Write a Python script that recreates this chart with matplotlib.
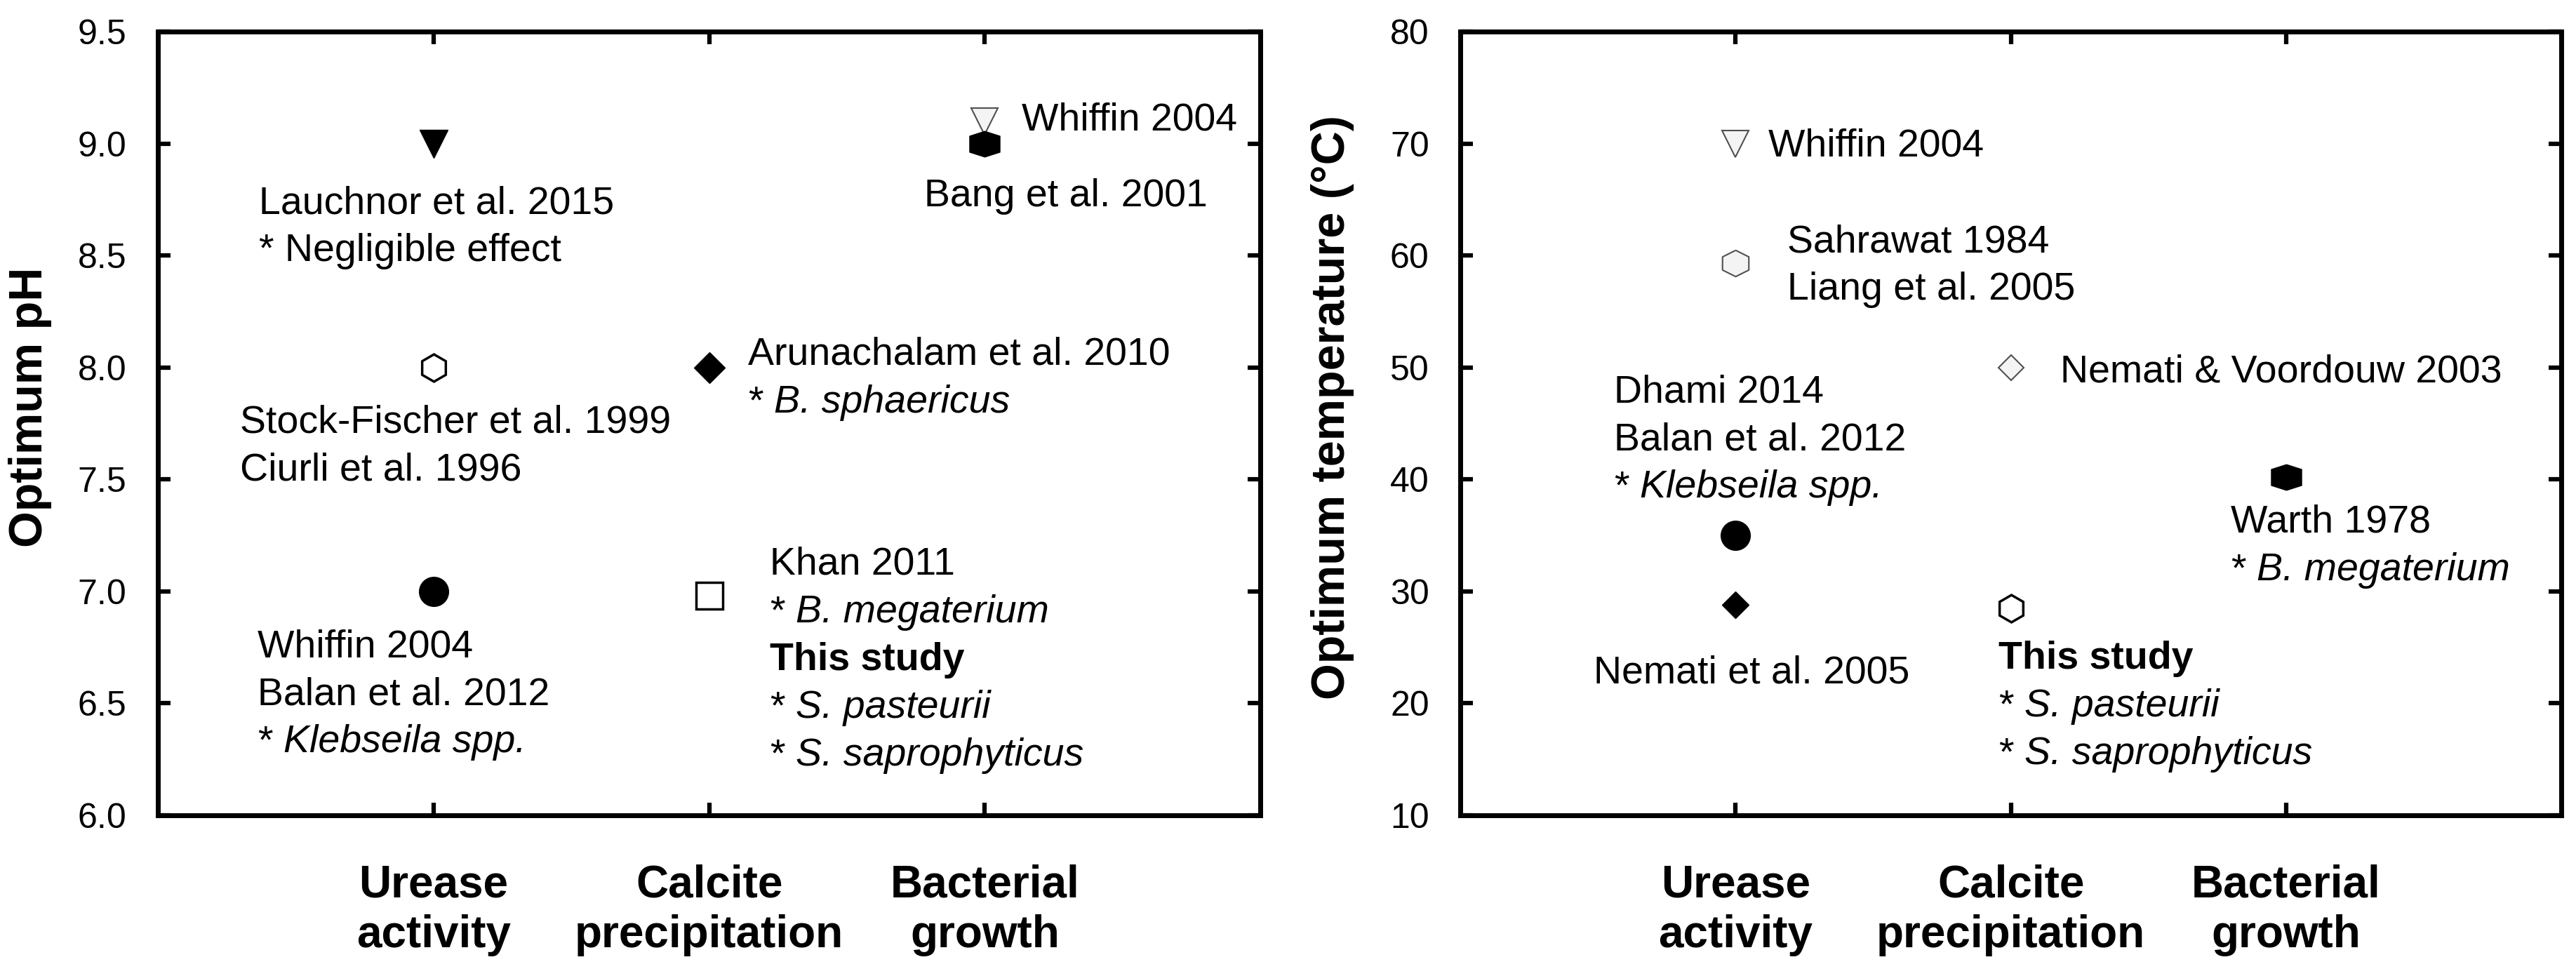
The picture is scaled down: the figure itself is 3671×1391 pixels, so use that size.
import matplotlib
matplotlib.use('Agg')
import matplotlib.pyplot as plt
from matplotlib.ticker import FormatStrFormatter

plt.rcParams['font.family'] = ['Liberation Sans', 'DejaVu Sans']

# categories on the x axis
categories = ['Urease\nactivity', 'Calcite\nprecipitation', 'Bacterial\ngrowth']
cat_pos = [1, 2, 3]

# note lines: plain str, ('it', species) -> "* " + italic, ('bf', text) -> bold
# optimum pH (left panel)
ph_cat = [1, 1, 1, 2, 2, 3, 3]
ph_val = [9.0, 8.0, 7.0, 8.0, 6.98, 9.1, 9.0]
ph_notes = [
    ['Lauchnor et al. 2015', '* Negligible effect'],
    ['Stock-Fischer et al. 1999', 'Ciurli et al. 1996'],
    ['Whiffin 2004', 'Balan et al. 2012', ('it', 'Klebseila spp.')],
    ['Arunachalam et al. 2010', ('it', 'B. sphaericus')],
    ['Khan 2011', ('it', 'B. megaterium'), ('bf', 'This study'),
     ('it', 'S. pasteurii'), ('it', 'S. saprophyticus')],
    ['Whiffin 2004'],
    ['Bang et al. 2001'],
]

# optimum temperature (right panel)
temp_cat = [1, 1, 1, 1, 2, 2, 3]
temp_val = [70.0, 59.3, 35.0, 28.8, 50.0, 28.5, 40.2]
temp_notes = [
    ['Whiffin 2004'],
    ['Sahrawat 1984', 'Liang et al. 2005'],
    ['Dhami 2014', 'Balan et al. 2012', ('it', 'Klebseila spp.')],
    ['Nemati et al. 2005'],
    ['Nemati & Voordouw 2003'],
    [('bf', 'This study'), ('it', 'S. pasteurii'), ('it', 'S. saprophyticus')],
    ['Warth 1978', ('it', 'B. megaterium')],
]

# ---- styles / layout ----
hex_wide = [(0, 1), (1, 0.5), (1, -0.5), (0, -1), (-1, -0.5), (-1, 0.5), (0, 1)]
hex_flat = [(0, 0.85), (1, 0.53), (1, -0.53), (0, -0.85), (-1, -0.53), (-1, 0.53), (0, 0.85)]
GRAY_E = '#505050'
GRAY_F = '#f4f4f4'
STYLES = {
    'v_fill': dict(marker='v', ms=29, mfc='k', mec='k', mew=1),
    'v_gray': dict(marker='v', ms=27, mfc=GRAY_F, mec=GRAY_E, mew=1.5),
    'o_fill': dict(marker='o', ms=30, mfc='k', mec='k', mew=1),
    'h_open': dict(marker='h', ms=28, mfc='w', mec='k', mew=2.5),
    'h_gray': dict(marker=hex_wide, ms=27, mfc=GRAY_F, mec=GRAY_E, mew=1.5),
    'hex_fill': dict(marker=hex_flat, ms=31, mfc='k', mec='k', mew=1),
    'D_fill': dict(marker='D', ms=22, mfc='k', mec='k', mew=1),
    'D_small': dict(marker='D', ms=19, mfc='k', mec='k', mew=1),
    'D_gray': dict(marker='D', ms=18, mfc=GRAY_F, mec=GRAY_E, mew=1.5),
    's_open': dict(marker='s', ms=27, mfc='w', mec='k', mew=2.5),
}
ph_marks = ['v_fill', 'h_open', 'o_fill', 'D_fill', 's_open', 'v_gray', 'hex_fill']
temp_marks = ['v_gray', 'h_gray', 'o_fill', 'D_small', 'D_gray', 'h_open', 'hex_fill']

# text anchor (first baseline) of each note, data coords
ph_note_xy = [(0.367, 8.688), (0.298, 7.711), (0.362, 6.708), (2.141, 8.012),
              (2.220, 7.075), (3.134, 9.061), (2.780, 8.72)]
temp_note_xy = [(1.119, 68.85), (1.188, 60.32), (0.558, 46.91), (0.484, 21.84),
                (2.180, 48.67), (1.955, 23.10), (2.799, 35.26)]

NOTE_FS = 40
LINE_STEP = 49      # points between note lines
STAR_W = 0.667 * NOTE_FS  # width of "* " in points


def note_line(ax, x, y, dy, line):
    kw = dict(xy=(x, y), textcoords='offset points', fontsize=NOTE_FS,
              ha='left', va='baseline', annotation_clip=False)
    if isinstance(line, str):
        ax.annotate(line, xytext=(0, dy), **kw)
    elif line[0] == 'bf':
        ax.annotate(line[1], xytext=(0, dy), fontweight='bold', **kw)
    else:
        ax.annotate('*', xytext=(0, dy), **kw)
        ax.annotate(line[1], xytext=(STAR_W, dy), fontstyle='italic', **kw)


def draw_panel(ax, cats, vals, marks, notes, note_xy, ylim, yticks, fmt, ylabel):
    for c, v, m in zip(cats, vals, marks):
        ax.plot(c, v, linestyle='none', zorder=3, **STYLES[m])
    for lines, (tx, ty) in zip(notes, note_xy):
        for i, line in enumerate(lines):
            note_line(ax, tx, ty, -LINE_STEP * i, line)
    ax.set_xlim(0, 4)
    ax.set_ylim(*ylim)
    ax.set_xticks(cat_pos)
    ax.set_xticklabels(categories, fontsize=46, fontweight='bold', linespacing=1.25)
    ax.set_yticks(yticks)
    ax.yaxis.set_major_formatter(FormatStrFormatter(fmt))
    ax.tick_params(axis='x', direction='in', top=True, length=13, width=4.5, pad=50)
    ax.tick_params(axis='y', direction='in', right=True, length=13, width=4.5,
                   pad=32, labelsize=36)
    for s in ax.spines.values():
        s.set_linewidth(5)
    ax.set_ylabel(ylabel, fontsize=48, fontweight='bold', va='center')
    ax.yaxis.set_label_coords(-0.116, 0.521)


fig = plt.figure(figsize=(36.71, 13.91), dpi=100)
ax1 = fig.add_axes([0.0613, 0.1646, 0.4280, 0.8030])
ax2 = fig.add_axes([0.5669, 0.1646, 0.4274, 0.8030])

draw_panel(ax1, ph_cat, ph_val, ph_marks, ph_notes, ph_note_xy,
           (6.0, 9.5), [6.0, 6.5, 7.0, 7.5, 8.0, 8.5, 9.0, 9.5], '%.1f', 'Optimum pH')
draw_panel(ax2, temp_cat, temp_val, temp_marks, temp_notes, temp_note_xy,
           (10, 80), [10, 20, 30, 40, 50, 60, 70, 80], '%d', 'Optimum temperature (°C)')

fig.savefig('out.png', dpi=100)
